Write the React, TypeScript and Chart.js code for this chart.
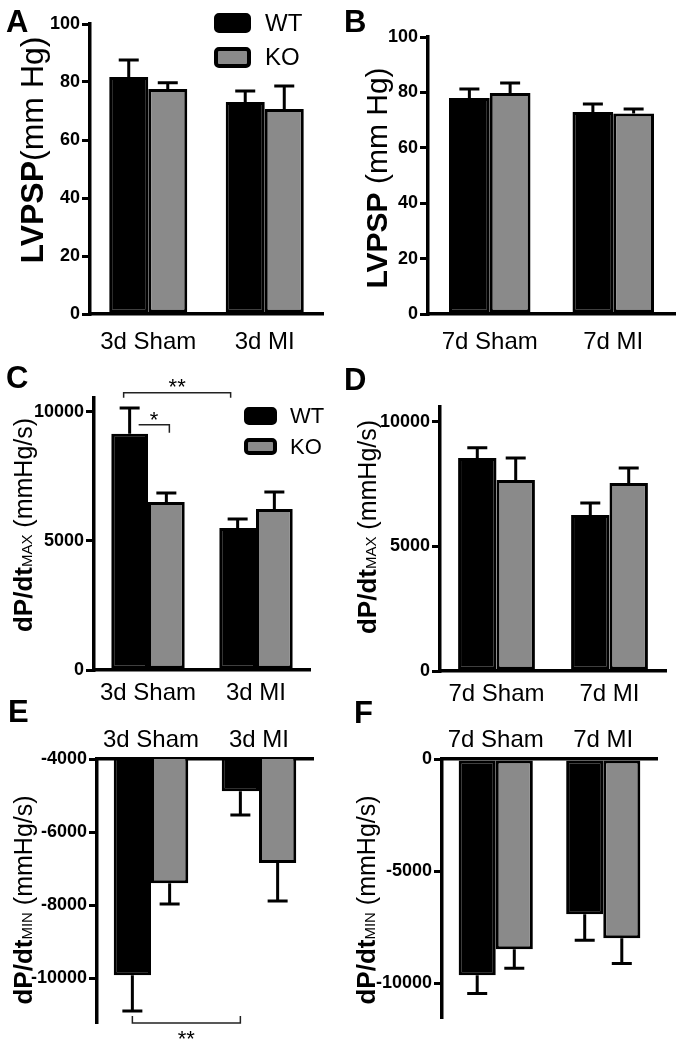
import React, { useEffect, useRef } from "react";
import { Chart, registerables } from "chart.js";

Chart.register(...registerables);

const FONT = '"Liberation Sans", Arial, Helvetica, sans-serif';
const WT_COLOR = "#000000";
const KO_COLOR = "#8a8a8a";

// ---------- data ----------
const categories3d = ["3d Sham", "3d MI"];
const categories7d = ["7d Sham", "7d MI"];
const seriesLabels = ["WT", "KO"];

// A: LVPSP (mm Hg), 3 days
const lvpsp3dWT = [81.7, 73.1];
const lvpsp3dWTsem = [5.9, 3.8];
const lvpsp3dKO = [77.6, 70.7];
const lvpsp3dKOsem = [2.1, 7.9];

// B: LVPSP (mm Hg), 7 days
const lvpsp7dWT = [78.0, 72.9];
const lvpsp7dWTsem = [3.2, 2.9];
const lvpsp7dKO = [79.8, 72.4];
const lvpsp7dKOsem = [3.6, 1.6];

// C: dP/dt max, 3 days
const dpdtMax3dWT = [9150, 5500];
const dpdtMax3dWTsem = [1000, 350];
const dpdtMax3dKO = [6510, 6240];
const dpdtMax3dKOsem = [350, 660];

// D: dP/dt max, 7 days
const dpdtMax7dWT = [8550, 6265];
const dpdtMax7dWTsem = [410, 485];
const dpdtMax7dKO = [7670, 7550];
const dpdtMax7dKOsem = [880, 600];

// E: dP/dt min, 3 days
const dpdtMin3dWT = [-9920, -4880];
const dpdtMin3dWTsem = [980, 650];
const dpdtMin3dKO = [-7400, -6850];
const dpdtMin3dKOsem = [570, 1040];

// F: dP/dt min, 7 days
const dpdtMin7dWT = [-9640, -6920];
const dpdtMin7dWTsem = [810, 1160];
const dpdtMin7dKO = [-8480, -7990];
const dpdtMin7dKOsem = [850, 1120];

// tick values
const ticksLVPSP = [0, 20, 40, 60, 80, 100];
const ticksMax = [0, 5000, 10000];
const ticksMin3d = [-4000, -6000, -8000, -10000];
const ticksMin7d = [0, -5000, -10000];

// ---------- panel layout ----------
type Seg = { t: string; f: string };
type Bracket = {
  a: [number, number];
  b: [number, number];
  dxA: number;
  dxB: number;
  yValue: number;
  tickA: number;
  tickB: number;
  label: string;
  labelDy: number;
};
type Panel = {
  key: string;
  left: number;
  top: number;
  width: number;
  height: number;
  area: { l: number; r: number; t: number; b: number };
  xPos: "top" | "bottom";
  xPad: number;
  catPct: number;
  categories: string[];
  wt: number[];
  wtSem: number[];
  ko: number[];
  koSem: number[];
  min: number;
  max: number;
  ticks: number[];
  letter: string;
  letterPos: [number, number];
  title: Seg[];
  titleX: number;
  titleY: number;
  legend?: { x: number; w: number; y1: number; h1: number; y2: number; h2: number; textX: number; size: number };
  brackets?: Bracket[];
};

const bold = (s: number) => `bold ${s}px ${FONT}`;
const norm = (s: number) => `${s}px ${FONT}`;

const panels: Panel[] = [
  {
    key: "A", left: 0, top: 0, width: 340, height: 362,
    area: { l: 90, r: 323, t: 24, b: 314 }, xPos: "bottom", xPad: 14, catPct: 0.67,
    categories: categories3d, wt: lvpsp3dWT, wtSem: lvpsp3dWTsem, ko: lvpsp3dKO, koSem: lvpsp3dKOsem,
    min: 0, max: 100, ticks: ticksLVPSP,
    letter: "A", letterPos: [6, 32],
    title: [{ t: "LVPSP", f: bold(32) }, { t: "(mm Hg)", f: norm(32) }], titleX: 43, titleY: 150,
    legend: { x: 214, w: 37, y1: 13, h1: 20, y2: 47, h2: 21, textX: 265, size: 24 },
  },
  {
    key: "B", left: 340, top: 0, width: 341, height: 362,
    area: { l: 88, r: 335, t: 37, b: 314 }, xPos: "bottom", xPad: 14, catPct: 0.66,
    categories: categories7d, wt: lvpsp7dWT, wtSem: lvpsp7dWTsem, ko: lvpsp7dKO, koSem: lvpsp7dKOsem,
    min: 0, max: 100, ticks: ticksLVPSP,
    letter: "B", letterPos: [4, 32],
    title: [{ t: "LVPSP", f: bold(30) }, { t: " (mm Hg)", f: norm(30) }], titleX: 47, titleY: 178,
  },
  {
    key: "C", left: 0, top: 340, width: 340, height: 370,
    area: { l: 94, r: 310, t: 58, b: 330 }, xPos: "bottom", xPad: 9, catPct: 0.68,
    categories: categories3d, wt: dpdtMax3dWT, wtSem: dpdtMax3dWTsem, ko: dpdtMax3dKO, koSem: dpdtMax3dKOsem,
    min: 0, max: 10540, ticks: ticksMax,
    letter: "C", letterPos: [6, 48],
    title: [{ t: "dP/dt", f: bold(26) }, { t: "MAX", f: norm(15) }, { t: " (mmHg/s)", f: norm(25) }],
    titleX: 32, titleY: 185,
    legend: { x: 244, w: 33, y1: 67, h1: 18, y2: 98, h2: 17, textX: 290, size: 22 },
    brackets: [
      { a: [0, 0], b: [0, 1], dxA: -6, dxB: -7, yValue: 10740, tickA: 5, tickB: 5, label: "**", labelDy: 1 },
      { a: [0, 0], b: [1, 0], dxA: 9, dxB: 3, yValue: 9500, tickA: 0, tickB: 8, label: "*", labelDy: 2 },
    ],
  },
  {
    key: "D", left: 340, top: 340, width: 341, height: 370,
    area: { l: 100, r: 326, t: 67, b: 331 }, xPos: "bottom", xPad: 9, catPct: 0.68,
    categories: categories7d, wt: dpdtMax7dWT, wtSem: dpdtMax7dWTsem, ko: dpdtMax7dKO, koSem: dpdtMax7dKOsem,
    min: 0, max: 10600, ticks: ticksMax,
    letter: "D", letterPos: [4, 50],
    title: [{ t: "dP/dt", f: bold(26) }, { t: "MAX", f: norm(15) }, { t: " (mmHg/s)", f: norm(25) }],
    titleX: 36, titleY: 187,
  },
  {
    key: "E", left: 0, top: 690, width: 340, height: 360,
    area: { l: 97, r: 313, t: 69, b: 332 }, xPos: "top", xPad: 4, catPct: 0.69,
    categories: categories3d, wt: dpdtMin3dWT, wtSem: dpdtMin3dWTsem, ko: dpdtMin3dKO, koSem: dpdtMin3dKOsem,
    min: -11200, max: -4000, ticks: ticksMin3d,
    letter: "E", letterPos: [8, 32],
    title: [{ t: "dP/dt", f: bold(26) }, { t: "MIN", f: norm(15) }, { t: " (mmHg/s)", f: norm(25) }],
    titleX: 32, titleY: 210,
    brackets: [
      { a: [0, 0], b: [0, 1], dxA: 0, dxB: 0, yValue: -11230, tickA: -7, tickB: -7, label: "**", labelDy: 23 },
    ],
  },
  {
    key: "F", left: 340, top: 690, width: 341, height: 360,
    area: { l: 102, r: 317, t: 69, b: 327 }, xPos: "top", xPad: 4, catPct: 0.69,
    categories: categories7d, wt: dpdtMin7dWT, wtSem: dpdtMin7dWTsem, ko: dpdtMin7dKO, koSem: dpdtMin7dKOsem,
    min: -11500, max: 0, ticks: ticksMin7d,
    letter: "F", letterPos: [14, 33],
    title: [{ t: "dP/dt", f: bold(26) }, { t: "MIN", f: norm(15) }, { t: " (mmHg/s)", f: norm(25) }],
    titleX: 35, titleY: 210,
  },
];

function makeChart(canvas: HTMLCanvasElement, p: Panel) {
  const sems = [p.wtSem, p.koSem];
  const decor = {
    id: "decor" + p.key,
    afterDatasetsDraw(chart: any) {
      const ctx = chart.ctx as CanvasRenderingContext2D;
      const ys = chart.scales.y;
      ctx.save();
      ctx.strokeStyle = "#000";
      ctx.lineWidth = 3;
      ctx.lineCap = "butt";
      chart.data.datasets.forEach((ds: any, di: number) => {
        const meta = chart.getDatasetMeta(di);
        meta.data.forEach((el: any, j: number) => {
          const v = ds.data[j] as number;
          const e = sems[di][j];
          const end = v < 0 ? v - e : v + e;
          const yEnd = ys.getPixelForValue(end);
          ctx.beginPath();
          ctx.moveTo(el.x, el.y);
          ctx.lineTo(el.x, yEnd);
          ctx.moveTo(el.x - 10, yEnd);
          ctx.lineTo(el.x + 10, yEnd);
          ctx.stroke();
        });
      });
      ctx.restore();
    },
    afterDraw(chart: any) {
      const ctx = chart.ctx as CanvasRenderingContext2D;
      ctx.save();
      ctx.fillStyle = "#000";
      ctx.font = bold(31);
      ctx.textBaseline = "alphabetic";
      ctx.textAlign = "left";
      ctx.fillText(p.letter, p.letterPos[0], p.letterPos[1]);
      let total = 0;
      p.title.forEach((s) => {
        ctx.font = s.f;
        total += ctx.measureText(s.t).width;
      });
      ctx.save();
      ctx.translate(p.titleX, p.titleY);
      ctx.rotate(-Math.PI / 2);
      let x = -total / 2;
      p.title.forEach((s) => {
        ctx.font = s.f;
        ctx.fillText(s.t, x, 0);
        x += ctx.measureText(s.t).width;
      });
      ctx.restore();
      if (p.legend) {
        const L = p.legend;
        const boxes = [
          { y: L.y1, h: L.h1, c: chart.data.datasets[0].backgroundColor, t: chart.data.datasets[0].label },
          { y: L.y2, h: L.h2, c: chart.data.datasets[1].backgroundColor, t: chart.data.datasets[1].label },
        ];
        boxes.forEach((b) => {
          ctx.beginPath();
          if ((ctx as any).roundRect) (ctx as any).roundRect(L.x + 2, b.y + 2, L.w - 4, b.h - 4, 3);
          else ctx.rect(L.x + 2, b.y + 2, L.w - 4, b.h - 4);
          ctx.fillStyle = b.c;
          ctx.fill();
          ctx.lineWidth = 4;
          ctx.strokeStyle = "#000";
          ctx.stroke();
          ctx.fillStyle = "#000";
          ctx.font = norm(L.size);
          ctx.textBaseline = "middle";
          ctx.fillText(b.t, L.textX, b.y + b.h / 2 + 1);
        });
        ctx.textBaseline = "alphabetic";
      }
      if (p.brackets) {
        const ys = chart.scales.y;
        p.brackets.forEach((br) => {
          const ea = chart.getDatasetMeta(br.a[0]).data[br.a[1]];
          const eb = chart.getDatasetMeta(br.b[0]).data[br.b[1]];
          const x1 = ea.x + br.dxA;
          const x2 = eb.x + br.dxB;
          const y = ys.getPixelForValue(br.yValue);
          ctx.strokeStyle = "#222";
          ctx.lineWidth = 1.5;
          ctx.beginPath();
          if (br.tickA) {
            ctx.moveTo(x1, y + br.tickA);
            ctx.lineTo(x1, y);
          } else ctx.moveTo(x1, y);
          ctx.lineTo(x2, y);
          if (br.tickB) ctx.lineTo(x2, y + br.tickB);
          ctx.stroke();
          ctx.fillStyle = "#000";
          ctx.font = norm(22);
          ctx.textAlign = "center";
          ctx.fillText(br.label, (x1 + x2) / 2, y + br.labelDy);
          ctx.textAlign = "left";
        });
      }
      ctx.restore();
    },
  };

  const barCommon = {
    borderColor: "#000",
    borderWidth: 3,
    borderSkipped: false,
    categoryPercentage: p.catPct,
    barPercentage: 1.0,
  };

  const pad =
    p.xPos === "bottom"
      ? { left: 0, right: p.width - p.area.r, top: p.area.t, bottom: 0 }
      : { left: 0, right: p.width - p.area.r, top: 0, bottom: p.height - p.area.b };

  return new Chart(canvas, {
    type: "bar",
    data: {
      labels: p.categories,
      datasets: [
        { label: seriesLabels[0], data: p.wt, backgroundColor: WT_COLOR, ...barCommon },
        { label: seriesLabels[1], data: p.ko, backgroundColor: KO_COLOR, ...barCommon },
      ],
    } as any,
    options: {
      animation: false,
      responsive: false,
      devicePixelRatio: 1,
      layout: { padding: pad },
      plugins: { legend: { display: false }, tooltip: { enabled: false } },
      scales: {
        x: {
          type: "category",
          position: p.xPos,
          offset: true,
          grid: { display: false, drawTicks: false, tickLength: 0 },
          border: { display: true, color: "#000", width: 3.5 },
          ticks: {
            color: "#000",
            font: { family: FONT, size: 24 },
            padding: p.xPad,
            maxRotation: 0,
            autoSkip: false,
          },
          afterFit: (s: any) => {
            s.height = p.xPos === "bottom" ? p.height - p.area.b : p.area.t;
          },
        },
        y: {
          type: "linear",
          min: p.min,
          max: p.max,
          afterBuildTicks: (s: any) => {
            s.ticks = p.ticks.map((v) => ({ value: v }));
          },
          grid: {
            display: true,
            drawOnChartArea: false,
            drawTicks: true,
            tickLength: 8,
            color: "#000",
            lineWidth: 3,
          },
          border: { display: true, color: "#000", width: 3.5 },
          ticks: {
            color: "#000",
            font: { family: FONT, size: 18, weight: "bold" },
            padding: 2,
            callback: (v: any) => String(v),
          },
          afterFit: (s: any) => {
            s.width = p.area.l;
          },
        },
      },
    } as any,
    plugins: [decor],
  });
}

function PanelChart({ p }: { p: Panel }) {
  const ref = useRef<HTMLCanvasElement | null>(null);
  useEffect(() => {
    if (!ref.current) return;
    const c = makeChart(ref.current, p);
    return () => c.destroy();
  }, [p]);
  return (
    <canvas
      ref={ref}
      width={p.width}
      height={p.height}
      style={{ position: "absolute", left: p.left, top: p.top, width: p.width, height: p.height, display: "block" }}
    />
  );
}

export default function App() {
  return (
    <div style={{ position: "absolute", left: 0, top: 0, width: 681, height: 1050, background: "#fff", overflow: "hidden" }}>
      {panels.map((p) => (
        <PanelChart key={p.key} p={p} />
      ))}
    </div>
  );
}
